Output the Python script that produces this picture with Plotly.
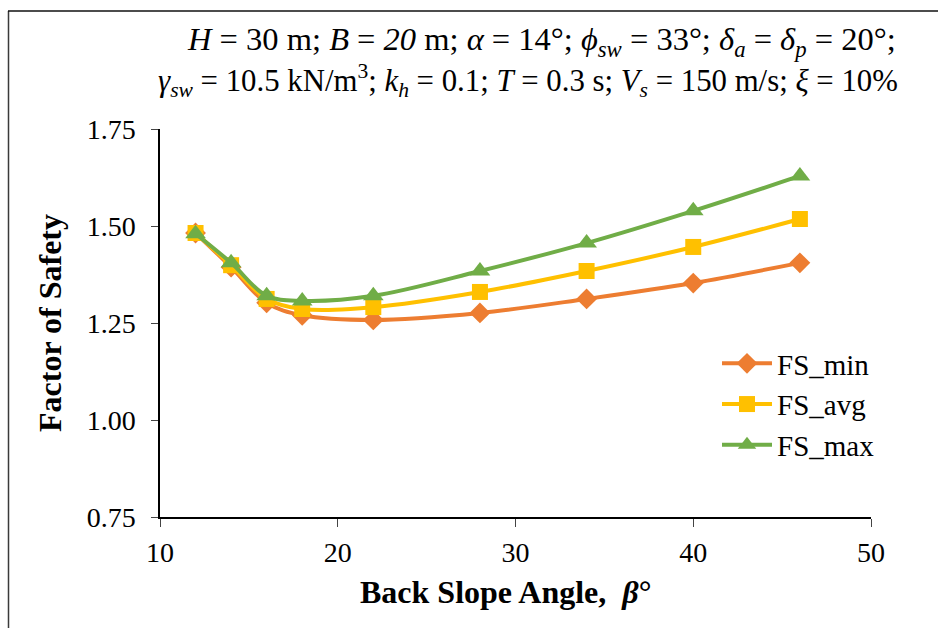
import plotly.graph_objects as go

beta = [12, 14, 16, 18, 22, 28, 34, 40, 46]
fs_min = [1.482, 1.394, 1.302, 1.270, 1.258, 1.276, 1.312, 1.353, 1.405]
fs_avg = [1.482, 1.399, 1.312, 1.286, 1.291, 1.330, 1.384, 1.446, 1.518]
fs_max = [1.480, 1.405, 1.320, 1.307, 1.320, 1.384, 1.456, 1.539, 1.629]
y_ticks = [0.75, 1.00, 1.25, 1.50, 1.75]
x_ticks = [10, 20, 30, 40, 50]

FONT = "Liberation Serif"
W, H = 938, 628
ML, MR, MT, MB = 160, 67, 129, 111
pw, ph = W - ML - MR, H - MT - MB


def px(x):
    return (x - ML) / pw


def py(y):
    return 1 - (y - MT) / ph


fig = go.Figure()
series = [
    ("FS_min", fs_min, "#ED7D31", "diamond", 16),
    ("FS_avg", fs_avg, "#FFC000", "square", 16),
    ("FS_max", fs_max, "#70AD47", "triangle-up", 18),
]
for name, ys, col, sym, sz in series:
    fig.add_trace(go.Scatter(
        x=beta, y=ys, name=name, mode="lines+markers",
        line=dict(color=col, width=4, shape="spline", smoothing=1.0),
        marker=dict(color=col, symbol=sym, size=sz),
    ))

line1 = ("<i>H</i> = 30 m; <i>B</i> = <i>20</i> m; <i>α</i> = 14°; <i>ϕ<sub>sw</sub></i> = 33°; "
         "<i>δ<sub>a</sub></i> = <i>δ<sub>p</sub></i> = 20°;")
line2 = ("<i>γ<sub>sw</sub></i> = 10.5 kN/m<sup>3</sup>; <i>k<sub>h</sub></i> = 0.1; <i>T</i> = 0.3 s; "
         "<i>V<sub>s</sub></i> = 150 m/s; <i>ξ</i> = 10%")

fig.add_annotation(text=line1, xref="paper", yref="paper", x=px(541), y=py(42),
                   xanchor="center", yanchor="middle", showarrow=False,
                   font=dict(family=FONT, size=32.5, color="black"))
fig.add_annotation(text=line2, xref="paper", yref="paper", x=px(528), y=py(80),
                   xanchor="center", yanchor="middle", showarrow=False,
                   font=dict(family=FONT, size=30.8, color="black"))

# x-axis title (placed as annotation to match the reference's offset)
fig.add_annotation(text="<b>Back Slope Angle,  <i>β</i>°</b>", xref="paper", yref="paper",
                   x=px(505), y=py(592), xanchor="center", yanchor="middle", showarrow=False,
                   font=dict(family=FONT, size=32, color="black"))

# outer frame (left and top edges visible)
fig.add_shape(type="line", xref="paper", yref="paper", x0=px(8.5), x1=px(8.5), y0=py(640), y1=py(11),
              line=dict(color="#3A3A3A", width=1.5))
fig.add_shape(type="line", xref="paper", yref="paper", x0=px(8), x1=px(950), y0=py(11), y1=py(11),
              line=dict(color="#111111", width=1.5))

fig.update_layout(
    width=W, height=H,
    margin=dict(l=ML, r=MR, t=MT, b=MB),
    paper_bgcolor="white", plot_bgcolor="white",
    font=dict(family=FONT, color="black"),
    showlegend=True,
    legend=dict(x=px(717), y=py(338), xanchor="left", yanchor="top",
                font=dict(family=FONT, size=29), bgcolor="rgba(0,0,0,0)",
                itemwidth=50),
    xaxis=dict(range=[10, 50], tickvals=x_ticks, ticks="outside", ticklen=8,
               showline=True, linecolor="black", linewidth=1.5, showgrid=False, zeroline=False,
               tickfont=dict(family=FONT, size=28), ticklabelstandoff=2),
    yaxis=dict(range=[0.75, 1.75], tickvals=y_ticks, ticktext=[f"{v:.2f}" for v in y_ticks],
               ticks="outside", ticklen=7,
               showline=True, linecolor="black", linewidth=1.5, showgrid=False, zeroline=False,
               tickfont=dict(family=FONT, size=28), ticklabelstandoff=10,
               title=dict(text="<b>Factor of Safety</b>", font=dict(family=FONT, size=32),
                          standoff=15)),
)

fig.write_html("out.html", post_script="document.body.style.margin='0';",
               config={"displayModeBar": False})
